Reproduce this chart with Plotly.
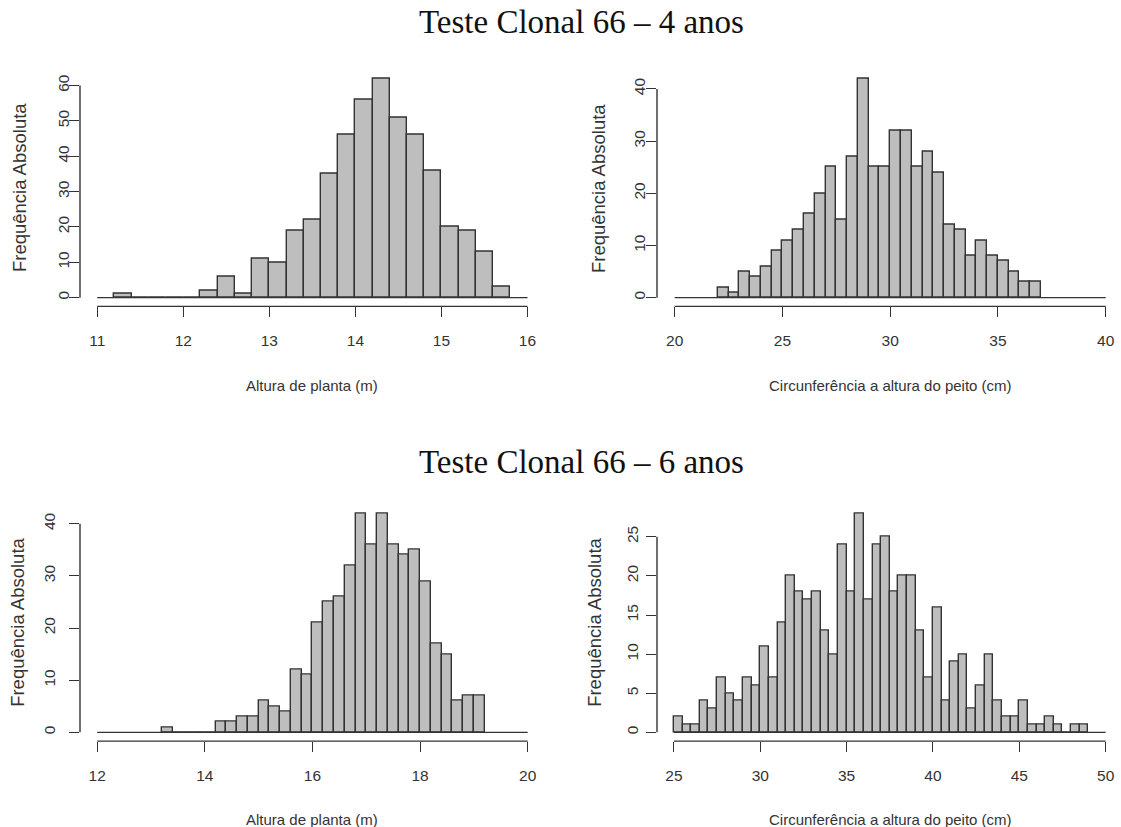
import plotly.graph_objects as go

# ---------------- data ----------------
# Teste Clonal 66 - 4 anos : Altura de planta (m)
h4_start = 11.2
h4_width = 0.2
h4_counts = [1, 0, 0, 0, 0, 2, 6, 1, 11, 10, 19, 22, 35, 46, 56, 62, 51, 46, 36, 20, 19, 13, 3]
h4_xticks = [11, 12, 13, 14, 15, 16]
h4_yticks = [0, 10, 20, 30, 40, 50, 60]

# Teste Clonal 66 - 4 anos : CAP (cm)
c4_start = 22.0
c4_width = 0.5
c4_counts = [2, 1, 5, 4, 6, 9, 11, 13, 16, 20, 25, 15, 27, 42, 25, 25, 32, 32, 25, 28,
             24, 14, 13, 8, 11, 8, 7, 5, 3, 3]
c4_xticks = [20, 25, 30, 35, 40]
c4_yticks = [0, 10, 20, 30, 40]

# Teste Clonal 66 - 6 anos : Altura de planta (m)
h6_start = 13.2
h6_width = 0.2
h6_counts = [1, 0, 0, 0, 0, 2, 2, 3, 3, 6, 5, 4, 12, 11, 21, 25, 26, 32, 42, 36,
             42, 36, 34, 35, 29, 17, 15, 6, 7, 7]
h6_xticks = [12, 14, 16, 18, 20]
h6_yticks = [0, 10, 20, 30, 40]

# Teste Clonal 66 - 6 anos : CAP (cm)
c6_start = 25.0
c6_width = 0.5
c6_counts = [2, 1, 1, 4, 3, 7, 5, 4, 7, 6, 11, 7, 14, 20, 18, 17, 18, 13, 10, 24,
             18, 28, 17, 24, 25, 18, 20, 20, 13, 7, 16, 4, 9, 10, 3, 6, 10, 4, 2, 2,
             4, 1, 1, 2, 1, 0, 1, 1]
c6_xticks = [25, 30, 35, 40, 45, 50]
c6_yticks = [0, 5, 10, 15, 20, 25]

titles = ["Teste Clonal 66 \u2013 4 anos", "Teste Clonal 66 \u2013 6 anos"]
xlab_h = "Altura de planta (m)"
xlab_c = "Circunfer\u00eancia a altura do peito (cm)"
ylab = "Frequ\u00eancia Absoluta"

# ---------------- layout helpers ----------------
W, H = 1121, 827
def fx(p):
    return p / W
def fy(p):
    return 1 - p / H

SANS = "Liberation Sans, Arial, sans-serif"
SERIF = "Liberation Serif, Times New Roman, serif"
INK = "#333333"
FILL = "#BEBEBE"

panels = [
    dict(start=h4_start, width=h4_width, counts=h4_counts, xt=h4_xticks, yt=h4_yticks,
         xdom=(80, 544.7), ydom=(69.7, 306.4), xr=(10.8, 16.2), yr=(-2.48, 64.48),
         xlab=xlab_h, xcx=312, ylx=19, ystand=-6),
    dict(start=c4_start, width=c4_width, counts=c4_counts, xt=c4_xticks, yt=c4_yticks,
         xdom=(657, 1121), ydom=(69.7, 306.4), xr=(19.18, 40.71), yr=(-1.68, 43.68),
         xlab=xlab_c, xcx=890, ylx=598, ystand=-5),
    dict(start=h6_start, width=h6_width, counts=h6_counts, xt=h6_xticks, yt=h6_yticks,
         xdom=(80, 544.9), ydom=(504.6, 741.1), xr=(11.68, 20.32), yr=(-1.68, 43.68),
         xlab=xlab_h, xcx=312, ylx=18, ystand=8),
    dict(start=c6_start, width=c6_width, counts=c6_counts, xt=c6_xticks, yt=c6_yticks,
         xdom=(657, 1121), ydom=(504.6, 741.1), xr=(24.02, 50.89), yr=(-1.12, 29.12),
         xlab=xlab_c, xcx=890, ylx=595, ystand=2),
]

fig = go.Figure()
layout = dict(
    width=W, height=H,
    margin=dict(l=0, r=0, t=0, b=0),
    paper_bgcolor="white", plot_bgcolor="white",
    showlegend=False,
    font=dict(family=SANS, size=15, color=INK),
)
shapes = []
annotations = []

xlab_y = [385, 819]

for i, p in enumerate(panels):
    n = "" if i == 0 else str(i + 1)
    xa, ya = "x" + n, "y" + n
    centers = [p["start"] + p["width"] * (k + 0.5) for k in range(len(p["counts"]))]
    fig.add_trace(go.Bar(
        x=centers, y=p["counts"], width=p["width"],
        marker=dict(color=FILL, line=dict(color=INK, width=1.4)),
        xaxis=xa, yaxis=ya, hoverinfo="x+y",
    ))
    layout["xaxis" + n] = dict(
        domain=[fx(p["xdom"][0]), fx(p["xdom"][1])], range=list(p["xr"]),
        anchor=ya, tickmode="array", tickvals=p["xt"], ticktext=[str(t) for t in p["xt"]],
        ticks="outside", ticklen=10, tickwidth=1.4, tickcolor=INK,
        showgrid=False, zeroline=False, showline=False,
        tickfont=dict(family=SANS, size=15.5, color=INK), ticklabelstandoff=10,
    )
    layout["yaxis" + n] = dict(
        domain=[fy(p["ydom"][1]), fy(p["ydom"][0])], range=list(p["yr"]),
        anchor=xa, tickmode="array", tickvals=p["yt"], ticktext=[str(t) for t in p["yt"]],
        ticks="outside", ticklen=10, tickwidth=1.4, tickcolor=INK, tickangle=-90,
        showgrid=False, zeroline=False, showline=False,
        tickfont=dict(family=SANS, size=15.5, color=INK), ticklabelstandoff=p["ystand"],
    )
    # R-style axis lines spanning first..last tick
    shapes.append(dict(type="line", xref=xa, yref=ya + " domain",
                       x0=p["xt"][0], x1=p["xt"][-1], y0=0, y1=0,
                       line=dict(color=INK, width=1.4)))
    shapes.append(dict(type="line", xref=xa + " domain", yref=ya,
                       x0=0, x1=0, y0=p["yt"][0], y1=p["yt"][-1],
                       line=dict(color=INK, width=1.4)))
    # zero line under the bars across the tick range
    shapes.append(dict(type="line", xref=xa, yref=ya,
                       x0=p["xt"][0], x1=p["xt"][-1], y0=0, y1=0,
                       line=dict(color=INK, width=1.4)))
    # axis titles
    annotations.append(dict(text=p["xlab"], xref="paper", yref="paper",
                            x=fx(p["xcx"]), y=fy(xlab_y[i // 2]), showarrow=False,
                            xanchor="center", yanchor="middle",
                            font=dict(family=SANS, size=15, color=INK)))
    annotations.append(dict(text=ylab, xref="paper", yref="paper",
                            x=fx(p["ylx"]), y=fy((p["ydom"][0] + p["ydom"][1]) / 2),
                            showarrow=False, textangle=-90,
                            xanchor="center", yanchor="middle",
                            font=dict(family=SANS, size=18.5, color=INK)))

for j, t in enumerate(titles):
    annotations.append(dict(text=t, xref="paper", yref="paper",
                            x=fx(581), y=fy([22, 462][j]), showarrow=False,
                            xanchor="center", yanchor="middle",
                            font=dict(family=SERIF, size=33, color="#111111")))

layout["shapes"] = shapes
layout["annotations"] = annotations
layout["bargap"] = 0
fig.update_layout(**layout)
fig.write_html(
    "out.html",
    config={"displayModeBar": False},
    post_script="document.body.style.margin='0';document.body.style.overflow='hidden';",
)
